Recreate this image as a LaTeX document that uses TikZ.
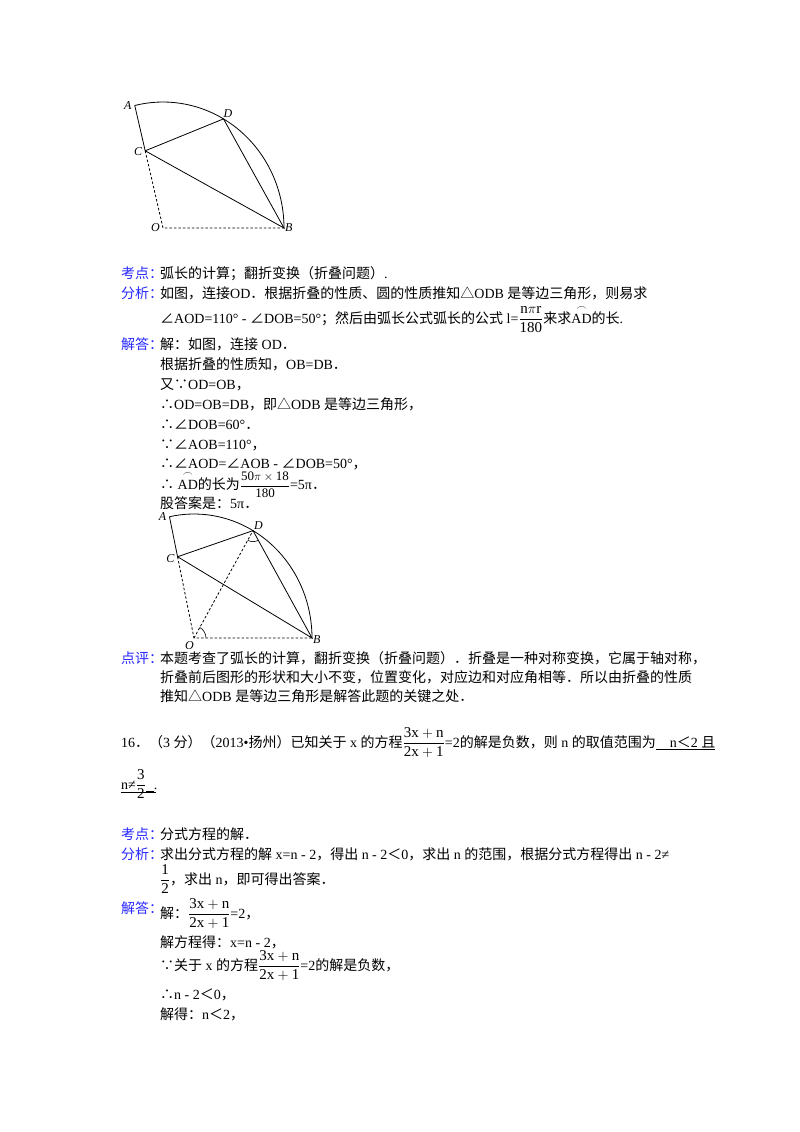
\documentclass[tikz,border=0pt]{standalone}
\usepackage{fontspec}
\usepackage{amsmath}
\usetikzlibrary{calc}
\setmainfont{Liberation Serif}
\newfontfamily\cjk{Noto Sans CJK SC}
\XeTeXinterchartokenstate=1
\newXeTeXintercharclass\cjkcls
\newcount\mycnt
\def\setcls#1#2{\mycnt=#1\relax\loop\XeTeXcharclass\mycnt=\cjkcls\ifnum\mycnt<#2\advance\mycnt1\repeat}
\setcls{"4E00}{"9FFF}
\setcls{"3000}{"303F}
\setcls{"FF00}{"FFEF}
\XeTeXcharclass"2220=\cjkcls
\XeTeXcharclass"2234=\cjkcls
\XeTeXcharclass"2235=\cjkcls
\XeTeXcharclass"25B3=\cjkcls
\XeTeXinterchartoks 0 \cjkcls = {\cjk}
\XeTeXinterchartoks 4095 \cjkcls = {\cjk}
\XeTeXinterchartoks \cjkcls 0 = {\rmfamily}
\XeTeXinterchartoks \cjkcls 4095 = {\rmfamily}
\definecolor{lab}{RGB}{40,40,255}
\tikzset{
  t/.style={anchor=base west,inner sep=0pt,font=\fontsize{14}{16}\selectfont},
  lb/.style={t,text=lab},
  pl/.style={inner sep=0pt,font=\fontsize{12}{14}\selectfont\itshape},
  ln/.style={line width=0.8pt},
  dl/.style={line width=0.8pt,dashed,dash pattern=on 2.5pt off 2pt},
}
\newcommand{\fr}[2]{{\fontsize{15}{16}\selectfont$\dfrac{\mathrm{#1}}{\mathrm{#2}}$}}
\newcommand{\frs}[2]{{\fontsize{13}{16}\selectfont$\dfrac{\mathrm{#1}}{\mathrm{#2}}$}}
\newcommand{\arcAD}{$\overset{\frown}{\mathrm{AD}}$}
\begin{document}
\begin{tikzpicture}[x=1pt,y=-1pt]
\useasboundingbox[fill=white] (0,0) rectangle (800,1132);
% figure 1
\coordinate (O1) at (163,228);
\coordinate (B1) at (284,228);
\coordinate (A1) at ($(O1)+(-103.5:121 and 126)$);
\coordinate (D1) at ($(O1)+(-60:121 and 126)$);
\coordinate (C1) at ($(O1)!0.63!(A1)$);
\draw[ln] (B1) arc[start angle=0,end angle=-103.5,x radius=121,y radius=126];
\draw[ln] (A1) -- (C1) -- (D1) -- (B1) -- (C1);
\draw[dl] (C1) -- (O1) -- (B1);
\node[pl,anchor=east] (a1) at ($(A1)+(-3,0)$) {A};
\node[pl,anchor=south west] (d1) at ($(D1)+(0,-1)$) {D};
\node[pl,anchor=east] (c1) at ($(C1)+(-3,1)$) {C};
\node[pl,anchor=north east] (o1) at ($(O1)+(-3,-5)$) {O};
\node[pl,anchor=north west] (b1) at ($(B1)+(1,-5)$) {B};
% text block 1
\node[lb] (k1) at (121,278) {考点：};
\node[t] (k1t) at (160,278) {弧长的计算；翻折变换（折叠问题）.};
\node[lb] (f1) at (121,298) {分析：};
\node[t] (f1t) at (160,298) {如图，连接OD．根据折叠的性质、圆的性质推知△ODB 是等边三角形，则易求};
\node[t] (f1u) at (160,323) {∠AOD=110° - ∠DOB=50°；然后由弧长公式弧长的公式 l=\fr{n\pi r}{180}来求\arcAD{}的长.};
\node[lb] (j1) at (121,349) {解答：};
\node[t] (j1a) at (160,349) {解：如图，连接 OD．};
\node[t] (j1b) at (160,369) {根据折叠的性质知，OB=DB．};
\node[t] (j1c) at (160,389) {又∵OD=OB，};
\node[t] (j1d) at (160,409) {∴OD=OB=DB，即△ODB 是等边三角形，};
\node[t] (j1e) at (160,429) {∴∠DOB=60°．};
\node[t] (j1f) at (160,449) {∵∠AOB=110°，};
\node[t] (j1g) at (160,468) {∴∠AOD=∠AOB - ∠DOB=50°，};
\node[t] (j1h) at (160,489) {∴ \arcAD{}的长为\frs{50\pi\times 18}{180}=5π．};
\node[t] (j1i) at (160,508) {股答案是：5π．};
% figure 2
\coordinate (O2) at (194,638);
\coordinate (B2) at (312,638);
\coordinate (A2) at ($(O2)+(-102:118 and 124)$);
\coordinate (D2) at ($(O2)+(-60:118 and 124)$);
\coordinate (C2) at ($(O2)!0.67!(A2)$);
\draw[ln] (B2) arc[start angle=0,end angle=-102,x radius=118,y radius=124];
\draw[ln] (A2) -- (C2) -- (D2) -- (B2) -- (C2);
\draw[dl] (C2) -- (O2) -- (B2);
\draw[dl] (O2) -- (D2);
\draw[line width=0.6pt] ($(O2)+(12,0)$) arc[start angle=0,end angle=-62,radius=12];
\draw[line width=0.6pt] ($(D2)!11pt!(O2)$) arc[start angle=119,end angle=61,radius=11];
\node[pl,anchor=east] (a2) at ($(A2)+(-3,0)$) {A};
\node[pl,anchor=south west] (d2) at ($(D2)+(1,-1)$) {D};
\node[pl,anchor=east] (c2) at ($(C2)+(-3,2)$) {C};
\node[pl,anchor=north east] (o2) at ($(O2)+(0,3)$) {O};
\node[pl,anchor=north west] (b2) at ($(B2)+(1,-3)$) {B};
% comment
\node[lb] (p1) at (121,663) {点评：};
\node[t] (p1a) at (160,663) {本题考查了弧长的计算，翻折变换（折叠问题）．折叠是一种对称变换，它属于轴对称，};
\node[t] (p1b) at (160,682) {折叠前后图形的形状和大小不变，位置变化，对应边和对应角相等．所以由折叠的性质};
\node[t] (p1c) at (160,701) {推知△ODB 是等边三角形是解答此题的关键之处．};
% problem 16
\node[t] (q16) at (121,747) {16．（3 分）（2013•扬州）已知关于 x 的方程\fr{3x+n}{2x+1}=2的解是负数，则 n 的取值范围为\underline{\quad n＜2 且}};
\node[t] (q16b) at (121,789) {n≠\fr{3}{2}\rule[-3pt]{8pt}{0.6pt}.};
\draw[line width=0.6pt] (121,792) -- (156,792);
\node[lb] (k2) at (121,839) {考点：};
\node[t] (k2t) at (160,839) {分式方程的解．};
\node[lb] (f2) at (121,859) {分析：};
\node[t] (f2t) at (160,859) {求出分式方程的解 x=n - 2，得出 n - 2＜0，求出 n 的范围，根据分式方程得出 n - 2≠};
\node[t] (f2u) at (160,884) {\fr{1}{2}，求出 n，即可得出答案．};
\node[lb] (j2) at (121,913) {解答：};
\node[t] (j2a) at (160,918) {解：\fr{3x+n}{2x+1}=2，};
\node[t] (j2b) at (160,947) {解方程得：x=n - 2，};
\node[t] (j2c) at (160,970) {∵关于 x 的方程\fr{3x+n}{2x+1}=2的解是负数，};
\node[t] (j2d) at (160,999) {∴n - 2＜0，};
\node[t] (j2e) at (160,1019) {解得：n＜2，};
\end{tikzpicture}
\end{document}
